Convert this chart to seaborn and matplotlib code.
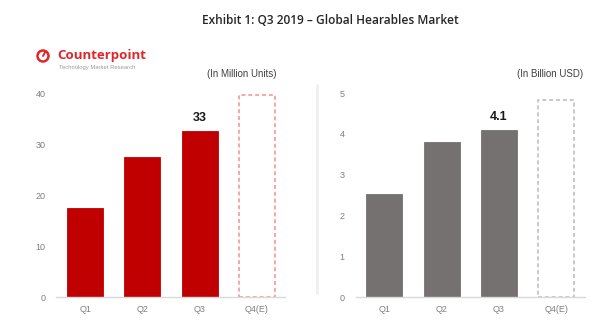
import matplotlib
matplotlib.use("Agg")
import matplotlib.pyplot as plt
import seaborn as sns
import pandas as pd
from matplotlib.patches import Ellipse

quarters = ["Q1", "Q2", "Q3", "Q4(E)"]
units_m = [17.5, 27.5, 32.7, 39.7]      # million units, Q4 estimated
revenue_b = [2.52, 3.79, 4.1, 4.82]      # billion USD, Q4 estimated
units_label = "33"
revenue_label = "4.1"
units_ticks = [0, 10, 20, 30, 40]
revenue_ticks = [0, 1, 2, 3, 4, 5]

sns.set_theme(style="white")
plt.rcParams["font.family"] = ["Liberation Sans", "DejaVu Sans"]

W, H = 612, 324
fig = plt.figure(figsize=(W / 100, H / 100), dpi=100)
fig.patch.set_facecolor("white")

ax1 = fig.add_axes([0.0923, 0.0833, 0.374, 0.628])
ax2 = fig.add_axes([0.581, 0.0833, 0.375, 0.6296])

def draw_panel(ax, values, ticks, color, est_color, label, yscale_max):
    df = pd.DataFrame({"quarter": quarters, "value": values})
    sns.barplot(data=df, x="quarter", y="value", color=color, width=0.63,
                saturation=1, ax=ax, edgecolor=color, linewidth=0.6)
    est = ax.patches[3]
    est.set_facecolor("white")
    est.set_edgecolor(est_color)
    est.set_linestyle((0, (2.2, 1.6)))
    est.set_linewidth(1.3)
    ax.set_ylim(0, yscale_max)
    ax.set_xlim(-0.5, 3.5)
    ax.set_yticks(ticks)
    ax.set_xlabel("")
    ax.set_ylabel("")
    for s in ["left", "right", "top"]:
        ax.spines[s].set_visible(False)
    ax.spines["bottom"].set_color("#d9d9d9")
    ax.spines["bottom"].set_linewidth(1.0)
    ax.tick_params(axis="both", length=0, labelsize=6.5, labelcolor="#7f7f7f")
    ax.tick_params(axis="y", pad=8)
    ax.tick_params(axis="x", pad=6)
    ax.set_facecolor("white")
    q3 = ax.patches[2]
    ax.text(q3.get_x() + q3.get_width() / 2, values[2] + yscale_max * 0.035, label,
            ha="center", va="bottom", fontsize=9, fontweight="bold", color="#1a1a1a")

draw_panel(ax1, units_m, units_ticks, "#c00000", "#f4a0a0", units_label, 40)
draw_panel(ax2, revenue_b, revenue_ticks, "#767171", "#c4c4c4", revenue_label, 5)

# divider between the two panels
fig.add_artist(plt.Line2D([317 / W, 317 / W], [1 - 85 / H, 1 - 293 / H],
                          color="#efefef", linewidth=2))

fig.text(330 / W, 1 - 20 / H, "Exhibit 1: Q3 2019 \u2013 Global Hearables Market",
         ha="center", va="center", fontsize=8.6, fontweight="semibold",
         color="#262626", family=["Open Sans", "DejaVu Sans"])

fig.text(242 / W, 1 - 74 / H, "(In Million Units)", ha="center", va="center",
         fontsize=7, color="#404040")
fig.text(550 / W, 1 - 74 / H, "(In Billion USD)", ha="center", va="center",
         fontsize=7, color="#404040")

# company logo
fig.add_artist(Ellipse((43 / W, 1 - 56 / H), 11 / W, 11 / H, transform=fig.transFigure,
                       fill=False, edgecolor="#e0262b", linewidth=1.8))
fig.add_artist(plt.Line2D([43 / W, 45 / W], [1 - 56 / H, 1 - 52.5 / H],
                          color="#e0262b", linewidth=1.4))
fig.text(57 / W, 1 - 55 / H, "Counterpoint", ha="left", va="center",
         fontsize=9.5, fontweight="bold", color="#e0262b",
         family=["Open Sans", "DejaVu Sans"])
fig.text(59 / W, 1 - 67 / H, "Technology Market Research", ha="left", va="center",
         fontsize=4.2, color="#9a9a9a")

fig.savefig("out.png", dpi=100, facecolor="white")
